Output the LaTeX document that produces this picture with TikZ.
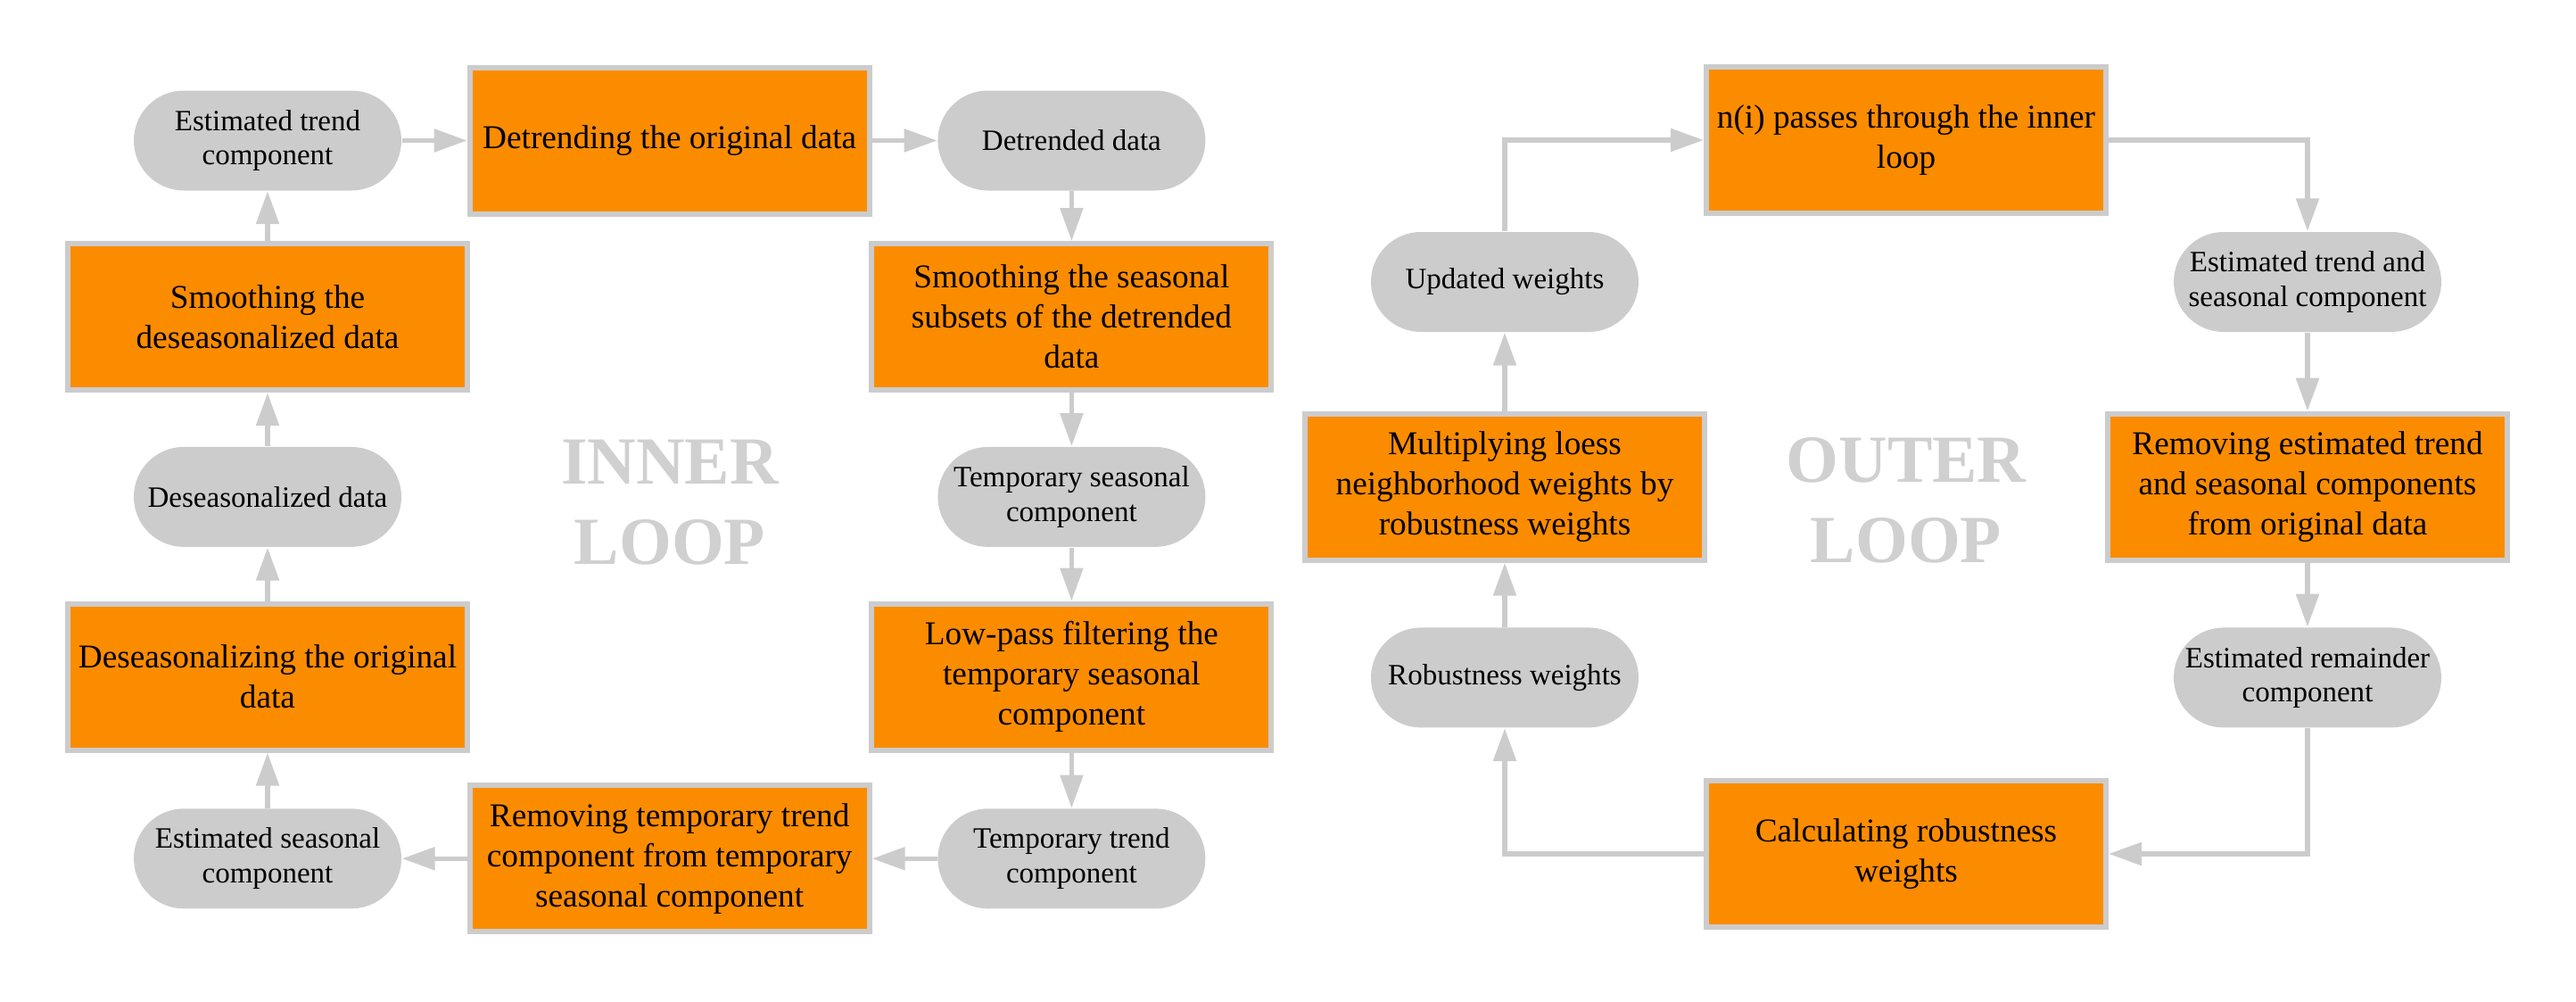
\documentclass[tikz,border=0pt]{standalone}
\usepackage{fontspec}
\setmainfont{Liberation Serif}
\usepackage{tikz}
\usetikzlibrary{arrows.meta, positioning}

\definecolor{stlorange}{RGB}{251,140,0}
\definecolor{stlgray}{RGB}{204,204,204}
\definecolor{looptext}{RGB}{208,208,208}

\begin{document}
\begin{tikzpicture}[node distance=0.6cm and 0.73cm,
    stage/.style={draw=stlgray, line width=0.06cm, fill=stlorange, minimum width=4.48cm, minimum height=1.64cm, inner sep=0pt, align=center, font=\fontsize{10.6}{12.8}\selectfont},
    pill/.style={fill=stlgray, rounded corners=0.56cm, minimum width=3cm, minimum height=1.12cm, inner sep=0pt, align=center, font=\fontsize{9.4}{11}\selectfont},
    flow/.style={draw=stlgray, line width=0.055cm, -{Triangle[length=0.37cm, width=0.25cm]}},
    looplabel/.style={text=looptext, align=center, inner sep=0pt, font=\fontsize{21.5}{25.6}\selectfont\bfseries}]
        \useasboundingbox (0,0) rectangle (28.88,-11.23);

        % Inner loop
        \node[pill] (esttrend) at (3,-1.575) {Estimated trend\\component};
        \node[stage, right=of esttrend] (detrend) {Detrending the original data};
        \node[pill, right=of detrend] (detrended) {Detrended data};
        \node[stage, below=0.56cm of detrended] (smoothsub) {Smoothing the seasonal\\subsets of the detrended\\data};
        \node[pill, below=of smoothsub] (tmpseas) {Temporary seasonal\\component};
        \node[stage, below=of tmpseas] (lowpass) {Low-pass filtering the\\temporary seasonal\\component};
        \node[pill, below=0.62cm of lowpass] (tmptrend) {Temporary trend\\component};
        \node[stage, below=0.56cm of esttrend] (smoothdes) {Smoothing the\\deseasonalized data};
        \node[pill, below=of smoothdes] (deseas) {Deseasonalized data};
        \node[stage, below=of deseas] (deseasing) {Deseasonalizing the original\\data};
        \node[pill, below=0.62cm of deseasing] (estseas) {Estimated seasonal\\component};
        \node[stage, right=of estseas] (removetmp) {Removing temporary trend\\component from temporary\\seasonal component};
        \node[looplabel] (innerlbl) at (7.51,-5.63) {INNER\\LOOP};

        \draw[flow] (esttrend) -- (detrend);
        \draw[flow] (detrend) -- (detrended);
        \draw[flow] (detrended) -- (smoothsub);
        \draw[flow] (smoothsub) -- (tmpseas);
        \draw[flow] (tmpseas) -- (lowpass);
        \draw[flow] (lowpass) -- (tmptrend);
        \draw[flow] (tmptrend) -- (removetmp);
        \draw[flow] (removetmp) -- (estseas);
        \draw[flow] (estseas) -- (deseasing);
        \draw[flow] (deseasing) -- (deseas);
        \draw[flow] (deseas) -- (smoothdes);
        \draw[flow] (smoothdes) -- (esttrend);

        % Outer loop
        \node[stage] (npasses) at (21.37,-1.57) {n(i) passes through the inner\\loop};
        \node[pill] (updw) at (16.87,-3.16) {Updated weights};
        \node[pill] (esttrendseas) at (25.87,-3.16) {Estimated trend and\\seasonal component};
        \node[stage, below=0.88cm of updw] (multiply) {Multiplying loess\\neighborhood weights by\\robustness weights};
        \node[stage, below=0.88cm of esttrendseas] (removeest) {Removing estimated trend\\and seasonal components\\from original data};
        \node[pill, below=0.72cm of multiply] (robw) {Robustness weights};
        \node[pill, below=0.72cm of removeest] (estrem) {Estimated remainder\\component};
        \node[stage] (calcrob) at (21.37,-9.57) {Calculating robustness\\weights};
        \node[looplabel] (outerlbl) at (21.37,-5.61) {OUTER\\LOOP};

        \draw[flow] (updw) |- (npasses);
        \draw[flow] (npasses) -| (esttrendseas);
        \draw[flow] (esttrendseas) -- (removeest);
        \draw[flow] (removeest) -- (estrem);
        \draw[flow] (estrem) |- (calcrob);
        \draw[flow] (calcrob) -| (robw);
        \draw[flow] (robw) -- (multiply);
        \draw[flow] (multiply) -- (updw);
    \end{tikzpicture}
\end{document}
